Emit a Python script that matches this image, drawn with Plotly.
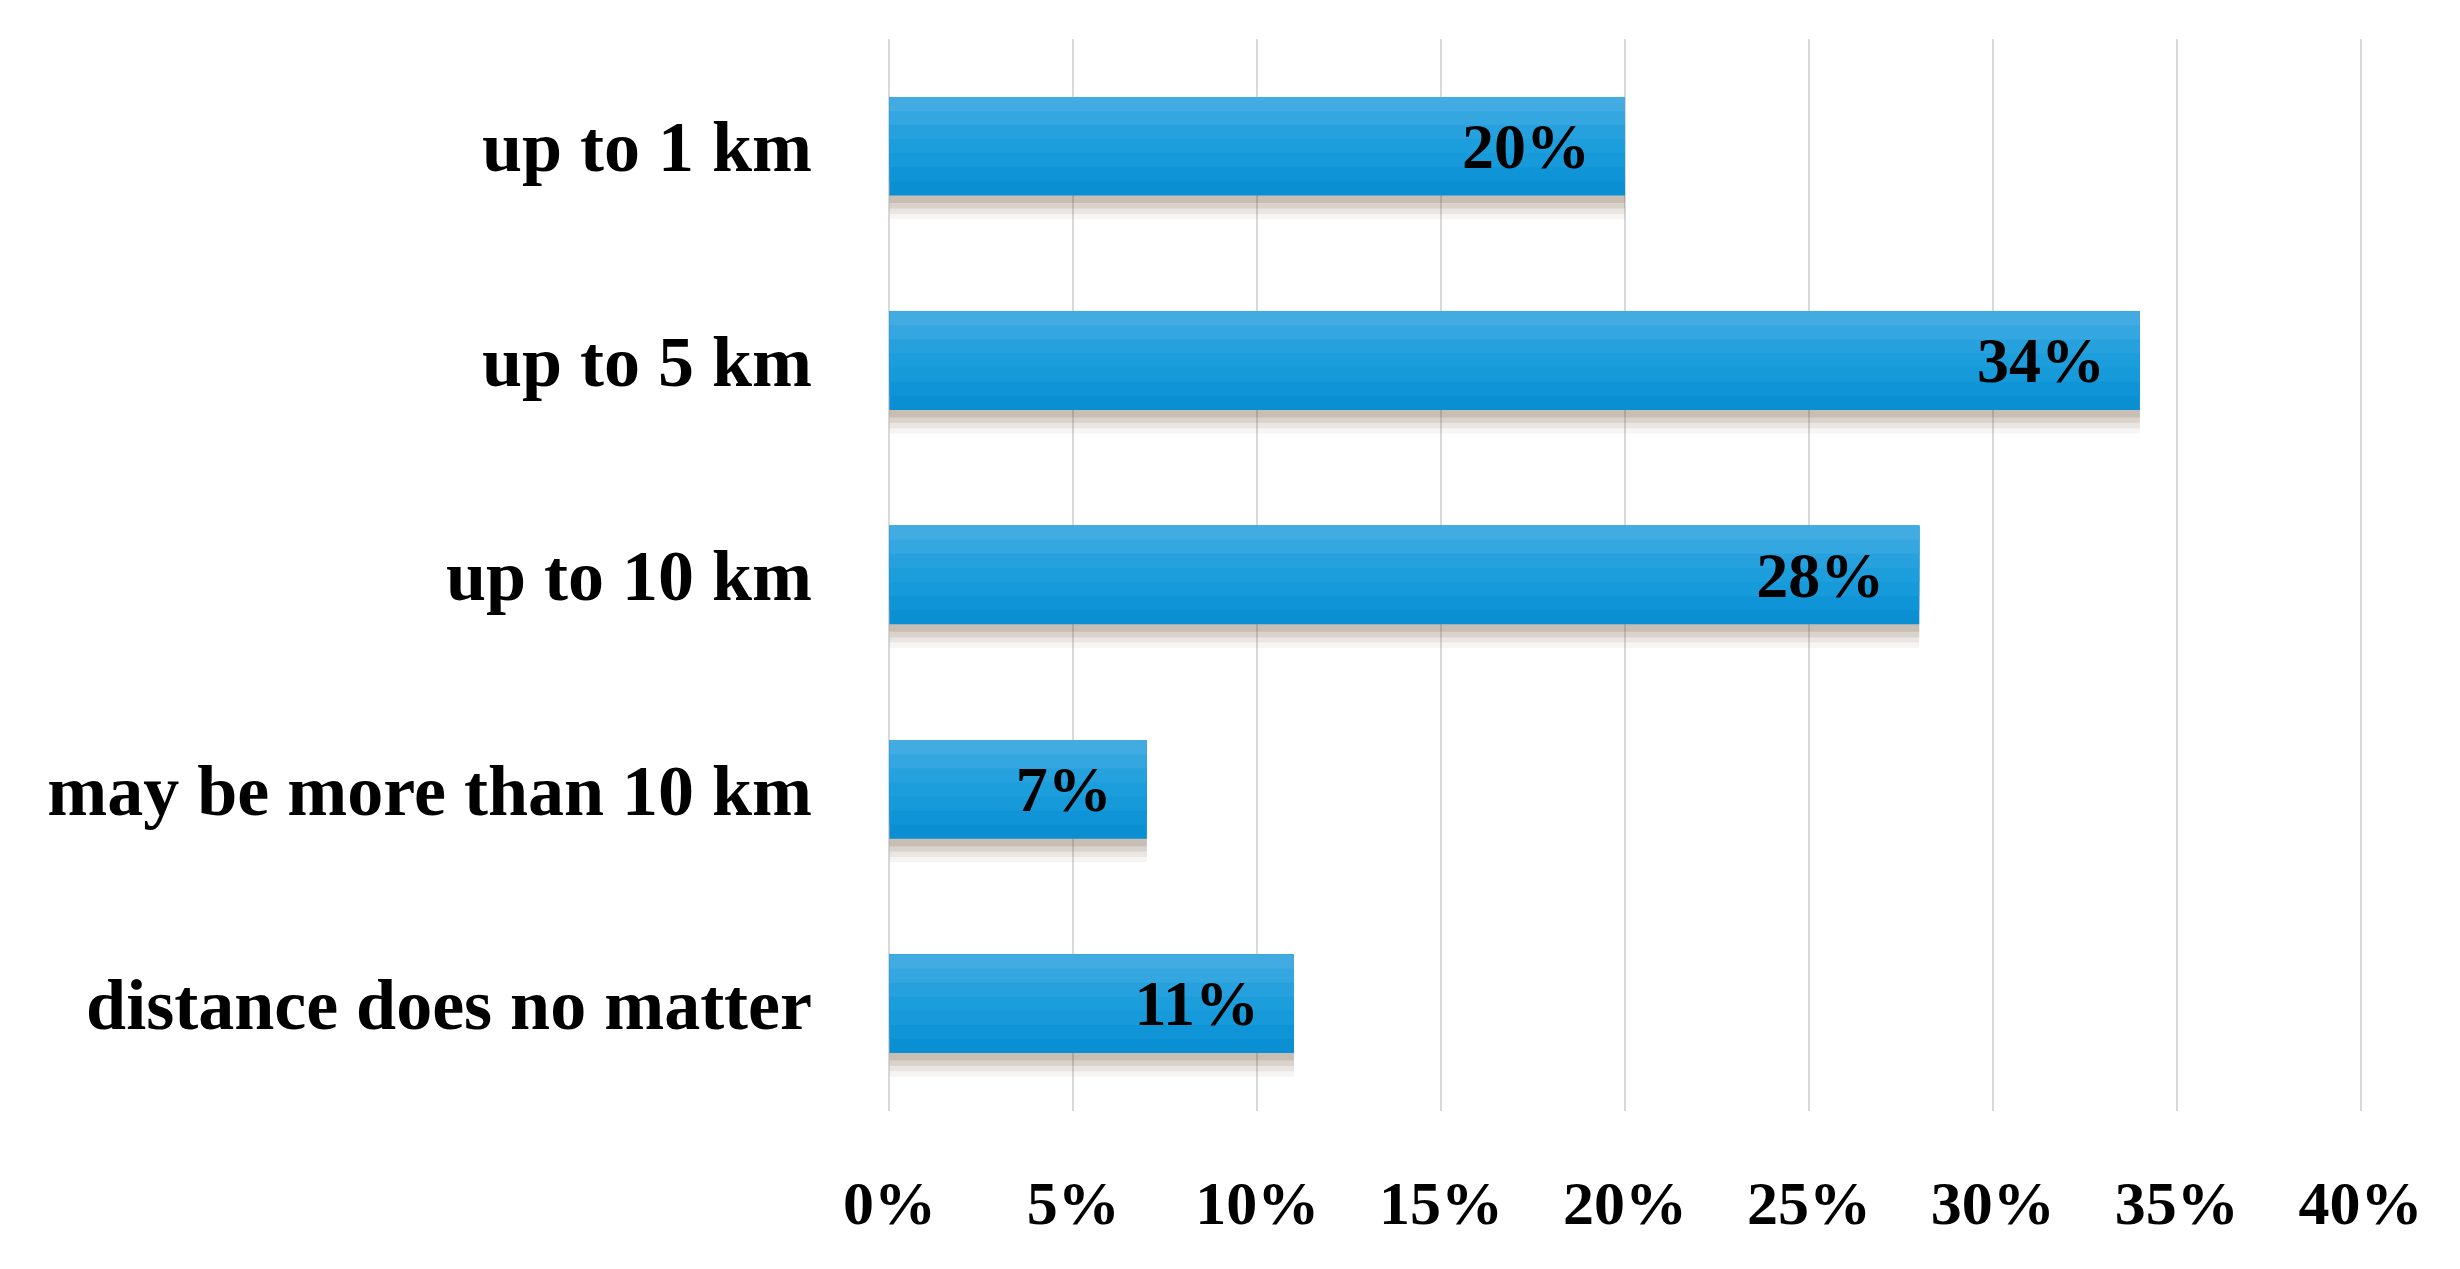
import plotly.graph_objects as go

categories = ["up to 1 km", "up to 5 km", "up to 10 km",
              "may be more than 10 km", "distance does no matter"]
shares = [20, 34, 28, 7, 11]          # percent of respondents
tick_vals = [0, 5, 10, 15, 20, 25, 30, 35, 40]
tick_text = [f"{v}%" for v in tick_vals]

FONT = "Liberation Serif"
BAR_W = 0.46

fig = go.Figure()

# blurred drop shadow: a few faint layers shifted downwards
for shift, alpha in [(0.11, 0.06), (0.085, 0.09), (0.06, 0.12), (0.035, 0.16)]:
    fig.add_trace(go.Bar(
        y=categories, x=shares, orientation="h",
        width=BAR_W, offset=-BAR_W / 2 + shift,
        marker=dict(color=f"rgba(110,80,50,{alpha})", line=dict(width=0)),
        hoverinfo="skip", showlegend=False,
    ))

# vertical gradient faked with bands, darker at the bottom
bands = ["#0a8fd3", "#0f95d7", "#169ada", "#1c9ddc", "#26a1de", "#34a6e0", "#42abe2"]
n = len(bands)
for i, col in enumerate(bands):
    h = BAR_W * (n - i) / n
    fig.add_trace(go.Bar(
        y=categories, x=shares, orientation="h",
        width=h, offset=-BAR_W / 2,
        marker=dict(color=col, line=dict(width=0)),
        hoverinfo="skip", showlegend=False,
    ))

# label trace (transparent, full bar height)
fig.add_trace(go.Bar(
    y=categories, x=shares, orientation="h",
    width=BAR_W, offset=-BAR_W / 2,
    marker=dict(color="rgba(0,0,0,0)", line=dict(width=0)),
    text=[f"{v}%\u00a0\u00a0" for v in shares],
    textposition="inside", insidetextanchor="end",
    textfont=dict(family=FONT, size=64, color="black", weight="bold"),
    showlegend=False,
))

fig.update_layout(
    width=2460, height=1269,
    margin=dict(l=877, r=103, t=31, b=166),
    paper_bgcolor="white", plot_bgcolor="white",
    barmode="overlay",
    font=dict(family=FONT, color="black"),
)
fig.update_xaxes(
    range=[-0.12, 40.12], tickvals=tick_vals, ticktext=tick_text,
    showgrid=True, gridcolor="#d9d9d9", gridwidth=2,
    zeroline=False, showline=False,
    tickfont=dict(family=FONT, size=62, weight="bold"),
    ticklabelstandoff=50,
)
fig.update_yaxes(
    autorange="reversed", showgrid=False, zeroline=False, showline=False,
    tickfont=dict(family=FONT, size=72, weight="bold"),
    ticklabelstandoff=72,
)

fig.write_html("out.html")
